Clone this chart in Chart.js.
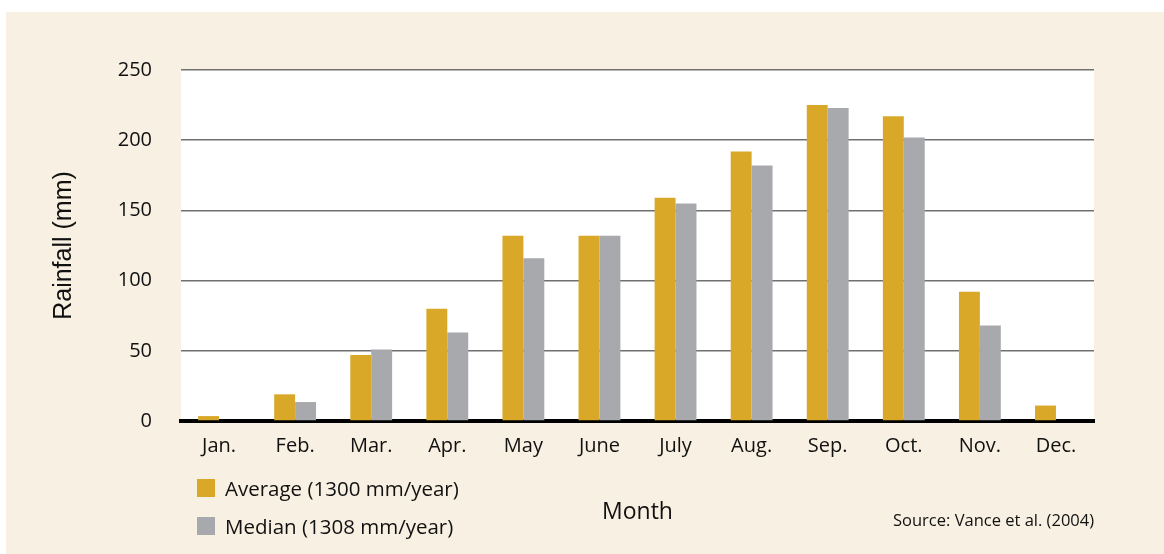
<!DOCTYPE html>
<html>
<head>
<meta charset="utf-8">
<script src="https://cdn.jsdelivr.net/npm/chart.js@4/dist/chart.umd.min.js"></script>
<style>
    body { margin: 0; background: #ffffff; }
    #panel {
        position: absolute; left: 6px; top: 12px;
        width: 1158px; height: 542px;
        background: #f8f0e2;
        font-family: "Open Sans", sans-serif;
    }
    #panel canvas { position: absolute; left: 0; top: 0; }
    #legend { position: absolute; left: 191px; top: 457px; }
    .item { display: flex; align-items: center; height: 38px; font-size: 20.5px; color: #111; }
    .swatch { width: 18px; height: 18px; margin-right: 10px; }
    #source { position: absolute; left: 887px; top: 496px; font-size: 16.5px; color: #111; }
</style>
</head>
<body>
<div id="panel">
    <canvas id="rainChart" width="1158" height="542"></canvas>
    <div id="legend"></div>
    <div id="source">Source: Vance et al. (2004)</div>
</div>
<script>
const months = ['Jan.', 'Feb.', 'Mar.', 'Apr.', 'May', 'June', 'July', 'Aug.', 'Sep.', 'Oct.', 'Nov.', 'Dec.'];
const averageRain = [3.5, 19, 47, 80, 132, 132, 159, 192, 225, 217, 92, 11];
const medianRain = [0, 13.5, 51, 63, 116, 132, 155, 182, 223, 202, 68, 0];
const seriesNames = ['Average (1300 mm/year)', 'Median (1308 mm/year)'];
const seriesColors = ['#daa829', '#a8a9ac'];

// white plot area behind the bars
const plotBackground = {
    id: 'plotBackground',
    beforeDraw(chart) {
        const { ctx, chartArea } = chart;
        ctx.save();
        ctx.fillStyle = '#ffffff';
        ctx.fillRect(chartArea.left, chartArea.top, chartArea.right - chartArea.left, chartArea.bottom - chartArea.top);
        ctx.restore();
    }
};

const ctx = document.getElementById('rainChart').getContext('2d');
const rainChart = new Chart(ctx, {
    type: 'bar',
    data: {
        labels: months,
        datasets: [
            { label: seriesNames[0], data: averageRain, backgroundColor: seriesColors[0] },
            { label: seriesNames[1], data: medianRain, backgroundColor: seriesColors[1] }
        ]
    },
    options: {
        responsive: false,
        animation: false,
        categoryPercentage: 0.55,
        barPercentage: 1.0,
        layout: { padding: { top: 58, right: 70, left: 0, bottom: 0 } },
        plugins: {
            legend: { display: false },
            tooltip: { enabled: false }
        },
        scales: {
            x: {
                grid: { display: false },
                border: { color: '#000000', width: 4 },
                ticks: { color: '#111', padding: 5, font: { family: 'Open Sans', size: 20 } },
                title: {
                    display: true, text: 'Month', color: '#111',
                    font: { family: 'Open Sans', size: 23 },
                    padding: { top: 0, bottom: 28 }
                },
                afterFit(scale) { scale.height = 133; }
            },
            y: {
                min: 0,
                max: 250,
                border: { display: false },
                grid: { color: '#707070', lineWidth: 1.5, drawTicks: false },
                ticks: { stepSize: 50, color: '#111', padding: 29, font: { family: 'Open Sans', size: 20 } },
                title: {
                    display: true, text: 'Rainfall (mm)', color: '#111',
                    font: { family: 'Liberation Sans', size: 25 },
                    padding: { top: 43, bottom: 0 }
                },
                afterFit(scale) { scale.width = 175; }
            }
        }
    },
    plugins: [plotBackground]
});

// legend built from the datasets, stacked like the original
const legendBox = document.getElementById('legend');
rainChart.data.datasets.forEach(ds => {
    const row = document.createElement('div');
    row.className = 'item';
    const sw = document.createElement('span');
    sw.className = 'swatch';
    sw.style.background = ds.backgroundColor;
    const txt = document.createElement('span');
    txt.textContent = ds.label;
    row.appendChild(sw);
    row.appendChild(txt);
    legendBox.appendChild(row);
});
</script>
</body>
</html>
